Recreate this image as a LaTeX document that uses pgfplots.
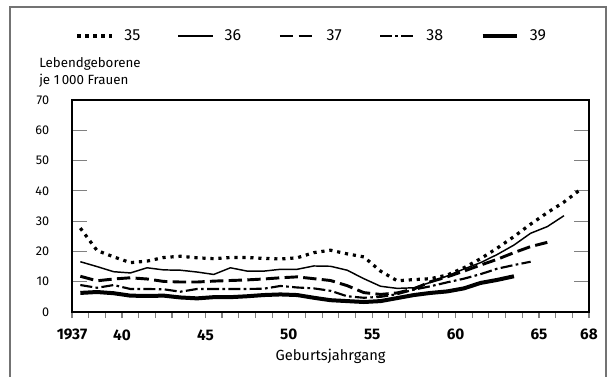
\documentclass[border=0pt]{standalone}
\usepackage{fontspec}
\setmainfont{Fira Sans}
\usepackage{pgfplots}
\usepackage{pgfplotstable}
\pgfplotsset{compat=1.18}

% Lebendgeborene je 1 000 Frauen im Alter von 35 bis 39 Jahren, nach Geburtsjahrgang
\pgfplotstableread{
jahr wert
1937 27.7
1938 20.3
1939 18.2
1940 16.3
1941 16.8
1942 18.0
1943 18.4
1944 17.9
1945 17.6
1946 18.0
1947 18.0
1948 17.7
1949 17.5
1950 17.9
1951 19.6
1952 20.4
1953 19.2
1954 18.2
1955 13.5
1956 10.3
1957 10.7
1958 11.0
1959 12.2
1960 14.6
1961 17.6
1962 21.1
1963 24.9
1964 29.0
1965 32.8
1966 36.3
1967 40.5
}\alterA

\pgfplotstableread{
jahr wert
1937 16.6
1938 15.0
1939 13.3
1940 12.9
1941 14.6
1942 13.9
1943 13.8
1944 13.2
1945 12.4
1946 14.6
1947 13.5
1948 13.5
1949 14.1
1950 14.1
1951 15.2
1952 15.1
1953 13.8
1954 11.0
1955 8.5
1956 7.8
1957 8.0
1958 9.8
1959 11.9
1960 14.2
1961 16.3
1962 19.0
1963 22.1
1964 26.0
1965 28.2
1966 31.8
}\alterB

\pgfplotstableread{
jahr wert
1937 11.8
1938 10.3
1939 10.9
1940 11.3
1941 10.9
1942 10.1
1943 9.9
1944 9.9
1945 10.2
1946 10.4
1947 10.6
1948 10.9
1949 11.3
1950 11.6
1951 11.0
1952 10.4
1953 8.7
1954 6.4
1955 5.8
1956 6.3
1957 7.6
1958 10.0
1959 11.6
1960 13.5
1961 15.5
1962 17.4
1963 19.6
1964 21.6
1965 23.0
}\alterC

\pgfplotstableread{
jahr wert
1937 8.9
1938 8.0
1939 8.9
1940 7.6
1941 7.6
1942 7.5
1943 6.7
1944 7.6
1945 7.6
1946 7.6
1947 7.6
1948 7.7
1949 8.6
1950 8.1
1951 7.8
1952 7.0
1953 5.2
1954 4.7
1955 5.0
1956 5.9
1957 7.4
1958 8.5
1959 9.8
1960 11.0
1961 12.5
1962 14.3
1963 15.5
1964 16.6
}\alterD

\pgfplotstableread{
jahr wert
1937 6.3
1938 6.6
1939 6.2
1940 5.4
1941 5.3
1942 5.4
1943 4.8
1944 4.5
1945 4.9
1946 4.9
1947 5.2
1948 5.6
1949 5.8
1950 5.6
1951 4.7
1952 3.9
1953 3.6
1954 3.3
1955 3.6
1956 4.6
1957 5.6
1958 6.3
1959 6.8
1960 7.8
1961 9.6
1962 10.6
1963 11.8
}\alterE

\tikzset{
  s35/.style={line width=2.4pt, dash pattern=on 2.4pt off 3.6pt, line cap=butt},
  s36/.style={line width=1.1pt, line join=round},
  s37/.style={line width=2.2pt, dash pattern=on 10pt off 4pt},
  s38/.style={line width=1.6pt, dash pattern=on 9pt off 2.5pt on 2pt off 2.5pt},
  s39/.style={line width=3pt, line join=round},
}

\begin{document}
\begin{tikzpicture}
\useasboundingbox (0,0) rectangle (456pt,282pt);
% Rahmen
\draw[black!55, line width=1.1pt] (7.5pt,-3pt) -- (7.5pt,276.75pt) -- (454.5pt,276.75pt) -- (454.5pt,-3pt);
% Achsenbeschriftung oben links
\node[anchor=west, inner sep=0pt, font=\fontsize{10}{12}\selectfont] at (29.25pt,234pt) {Lebendgeborene};
\node[anchor=west, inner sep=0pt, font=\fontsize{10}{12}\selectfont] at (29.25pt,221.25pt) {je 1\,000 Frauen};
\begin{axis}[
  at={(54pt,48pt)}, anchor=south west,
  scale only axis, width=387.75pt, height=159pt,
  xmin=1937, xmax=1968, ymin=0, ymax=70,
  axis line style={line width=1.2pt},
  /pgf/number format/assume math mode=true,
  xtick={1937,1940,1945,1950,1955,1960,1965,1968},
  xticklabels={1937,40,45,50,55,60,65,68},
  minor xtick={1937,...,1968},
  xtick pos=bottom,
  x tick style={line width=0.9pt},
  xtick align=outside,
  major tick length=4.5pt, minor tick length=4.5pt,
  ytick={0,10,...,70},
  ytick pos=both,
  ytick align=inside,
  y tick style={line width=0.9pt, /pgfplots/major tick length=11pt},
  xticklabel style={font=\fontsize{11.5}{13}\selectfont\bfseries, yshift=-5pt},
  yticklabel style={font=\fontsize{9.5}{11}\selectfont, xshift=-13.5pt},
  xlabel={Geburtsjahrgang},
  xlabel style={font=\fontsize{11}{13}\selectfont, at={(axis description cs:0.5,0)}, anchor=center, yshift=-33pt},
  legend columns=5,
  legend image code/.code={\draw[#1] (0pt,0pt) -- (26pt,0pt);},
  legend style={draw=none, fill=none, at={(axis description cs:0.007,1.302)}, anchor=west,
    inner sep=0pt, font=\fontsize{12}{14}\selectfont,
    nodes={inner sep=0pt},
    /tikz/every even column/.append style={column sep=28pt},
    /tikz/every odd column/.append style={column sep=8pt}},
]
\addplot[s35] table[x expr=\thisrow{jahr}+0.5, y=wert] {\alterA};
\addlegendentry{35}
\addplot[s36] table[x expr=\thisrow{jahr}+0.5, y=wert] {\alterB};
\addlegendentry{36}
\addplot[s37] table[x expr=\thisrow{jahr}+0.5, y=wert] {\alterC};
\addlegendentry{37}
\addplot[s38] table[x expr=\thisrow{jahr}+0.5, y=wert] {\alterD};
\addlegendentry{38}
\addplot[s39] table[x expr=\thisrow{jahr}+0.5, y=wert] {\alterE};
\addlegendentry{39}
\end{axis}
\end{tikzpicture}
\end{document}
